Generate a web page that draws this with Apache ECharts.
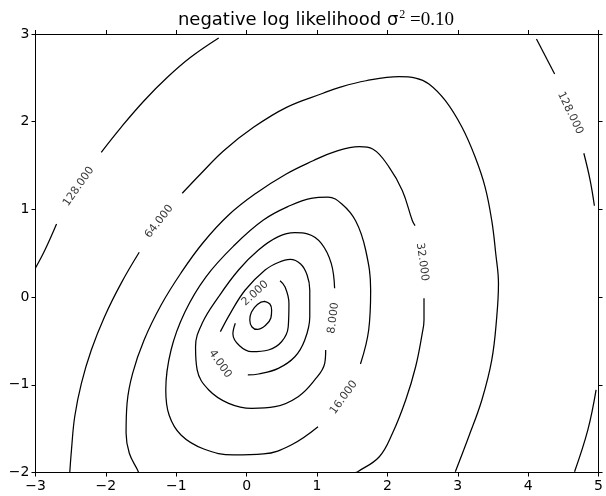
<!DOCTYPE html>
<html><head><meta charset="utf-8">
<script src="https://cdn.jsdelivr.net/npm/echarts@6/dist/echarts.min.js"></script>
<style>html,body{margin:0;padding:0;background:#fff}#c{width:606px;height:496px}</style>
</head><body><div id="c"></div>
<script>
// tick values
const xTicks = [-3, -2, -1, 0, 1, 2, 3, 4, 5];
const yTicks = [-2, -1, 0, 1, 2, 3];

// contour paths, each level = list of visible segments [x, y]
const contour1 = [[
  [0.252,-0.050],[0.330,-0.079],[0.355,-0.147],[0.344,-0.238],[0.266,-0.324],[0.153,-0.369],
  [0.076,-0.341],[0.045,-0.261],[0.069,-0.170],[0.153,-0.084],[0.252,-0.050],[0.330,-0.079]
]];
const contour2 = [[
  [-0.161,-0.299],[-0.195,-0.420],[-0.101,-0.555],[0.073,-0.623],[0.309,-0.603],[0.496,-0.509],
  [0.591,-0.338],[0.601,-0.071],[0.544,0.119],[0.474,0.187]
]];
const contour4 = [[
  [-0.373,-0.394],[-0.232,-0.185],[-0.020,0.081],[0.262,0.309],[0.450,0.395],[0.619,0.429],
  [0.767,0.377],[0.859,0.252],[0.897,0.081],[0.897,-0.223],[0.826,-0.489],[0.685,-0.680],
  [0.450,-0.812],[0.168,-0.877],[0.017,-0.888]
]];
const contour8 = [[
  [1.123,-0.603],[1.109,-0.755],[0.967,-0.945],[0.732,-1.136],[0.403,-1.250],[0.073,-1.268],
  [-0.256,-1.211],[-0.538,-1.059],[-0.703,-0.831],[-0.726,-0.566],[-0.632,-0.299],[-0.397,0.005],
  [-0.115,0.309],[0.168,0.537],[0.450,0.689],[0.685,0.734],[0.873,0.719],[1.061,0.613],
  [1.202,0.385],[1.250,0.100]
]];
const contour16 = [[
  [1.617,-0.763],[1.734,-0.375],[1.762,0.081],[1.691,0.537],[1.550,0.868],[1.353,1.062],
  [1.155,1.141],[0.915,1.127],[0.619,1.044],[0.238,0.879],[-0.171,0.594],[-0.580,0.229],
  [-0.877,-0.170],[-1.074,-0.603],[-1.149,-1.059],[-1.102,-1.344],[-0.933,-1.572],[-0.608,-1.732],
  [-0.185,-1.800],[0.238,-1.789],[0.633,-1.686],[1.014,-1.478]
]];
const contour32 = [
  [[2.520,-0.014],[2.520,-0.261],[2.495,-0.413],[2.401,-0.794],[2.260,-1.173],[2.072,-1.553],
   [1.885,-1.820],[1.578,-1.991],[1.543,-2.0]],
  [[2.393,0.814],[2.355,0.871],[2.213,1.213],[2.026,1.480],[1.790,1.689],[1.602,1.715],
   [1.226,1.651],[0.944,1.555],[0.563,1.404],[0.139,1.187],[-0.256,0.936],[-0.623,0.617],
   [-0.933,0.275],[-1.215,-0.090],[-1.457,-0.489],[-1.620,-0.869],[-1.699,-1.211],[-1.713,-1.553],
   [-1.667,-1.781],[-1.550,-1.971],[-1.533,-2.0]]
];
const contour64 = [
  [[-0.915,1.184],[-0.655,1.404],[-0.326,1.669],[0.097,1.936],[0.567,2.164],[1.085,2.324],
   [1.320,2.392],[1.696,2.467],[2.167,2.513],[2.401,2.498],[2.590,2.430],[2.824,2.239],
   [3.060,1.936],[3.248,1.594],[3.389,1.252],[3.483,0.871],[3.540,0.491],[3.578,0.157],
   [3.554,-0.223],[3.483,-0.717],[3.342,-1.173],[3.155,-1.592],[2.965,-1.991]],
  [[-1.526,0.511],[-1.784,0.157],[-2.019,-0.223],[-2.207,-0.603],[-2.348,-0.983],[-2.443,-1.364],
   [-2.489,-1.743],[-2.513,-2.0]]
];
const contour128 = [
  [[-0.397,2.954],[-0.796,2.734],[-1.126,2.506],[-1.457,2.239],[-1.784,1.936],[-2.066,1.651]],
  [[-2.701,0.834],[-2.866,0.537],[-3.0,0.332]],
  [[4.118,2.943],[4.376,2.544]],
  [[4.791,1.640],[4.880,1.335],[4.941,1.042]],
  [[4.965,-1.059],[4.848,-1.515],[4.659,-1.991]]
];

// contour label texts and their places
const labelTexts = ['128.000','64.000','128.000','32.000','16.000','8.000','4.000','2.000'];
const labelX = [-2.386,-1.243,4.598,2.495,1.381,1.233,-0.376,0.121];
const labelY = [1.261,0.862,2.099,0.400,-1.145,-0.238,-0.763,0.043];
const labelAngles = [55,52,-64,-82,54,83,-55,42];

const fmt = v => (v < 0 ? '\u2212' + Math.abs(v) : String(v));

const chart = echarts.init(document.getElementById('c'), null, {renderer: 'canvas'});
const series = [];
[contour1, contour2, contour4, contour8, contour16, contour32, contour64, contour128].forEach(segs => {
  segs.forEach(seg => series.push({
    type: 'line', data: seg, showSymbol: false, smooth: 0.4, clip: true, silent: true,
    lineStyle: {color: '#000', width: 1.25}, animation: false
  }));
});
series.push({
  type: 'scatter', symbolSize: 0, silent: true, animation: false,
  data: labelTexts.map((t, i) => ({
    value: [labelX[i], labelY[i]],
    label: {formatter: t, rotate: labelAngles[i]}
  })),
  label: {show: true, position: 'inside', color: '#000', fontSize: 11, fontFamily: 'DejaVu Sans'}
});

const axisCommon = {
  type: 'value', splitLine: {show: false},
  axisLine: {show: true, onZero: false, lineStyle: {color: '#000', width: 1}},
  axisTick: {show: true, inside: false, length: 4, lineStyle: {color: '#000', width: 1}}
};
const labelStyle = {color: '#000', fontSize: 14, fontFamily: 'DejaVu Sans', formatter: fmt, showMinLabel: true, showMaxLabel: true};

chart.setOption({
  animation: false,
  backgroundColor: '#fff',
  grid: {left: 35.5, top: 34, right: 3.5, bottom: 23.5, containLabel: false},
  xAxis: [
    Object.assign({}, axisCommon, {position: 'bottom', min: xTicks[0], max: xTicks[xTicks.length-1], interval: 1,
      axisLabel: Object.assign({}, labelStyle, {margin: 7})}),
    Object.assign({}, axisCommon, {position: 'top', min: xTicks[0], max: xTicks[xTicks.length-1], interval: 1,
      axisLabel: {show: false}})
  ],
  yAxis: [
    Object.assign({}, axisCommon, {position: 'left', min: yTicks[0], max: yTicks[yTicks.length-1], interval: 1,
      axisLabel: Object.assign({}, labelStyle, {margin: 6})}),
    Object.assign({}, axisCommon, {position: 'right', min: yTicks[0], max: yTicks[yTicks.length-1], interval: 1,
      axisLabel: {show: false}})
  ],
  graphic: [{
    type: 'text', x: 316, y: 20,
    style: {
      text: '{a|negative log likelihood σ}{s|2}{b| =0.10}',
      align: 'center', verticalAlign: 'middle',
      rich: {
        a: {fontFamily: 'DejaVu Sans', fontSize: 18, fill: '#000'},
        s: {fontFamily: 'Liberation Serif', fontSize: 12, fill: '#000', padding: [0, 0, 11, 1]},
        b: {fontFamily: 'Liberation Serif', fontSize: 19, fill: '#000'}
      }
    }
  }],
  series: series
});
</script>
</body></html>
